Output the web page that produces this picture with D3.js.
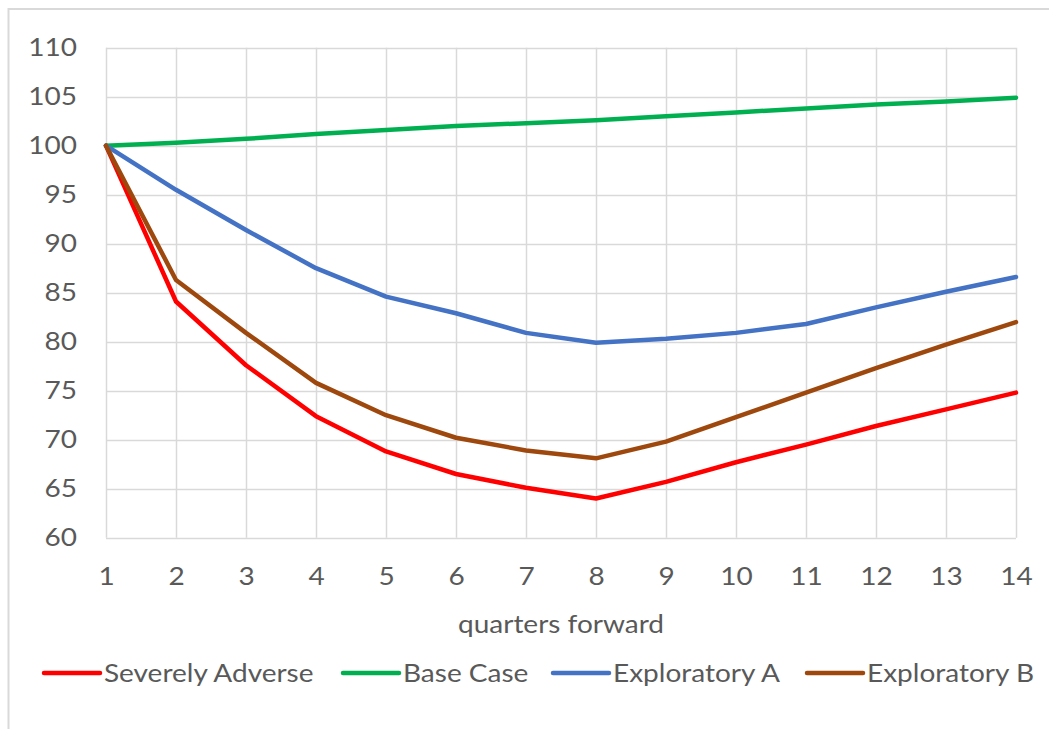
<!DOCTYPE html>
<html>
<head>
<meta charset="utf-8">
<script src="https://cdn.jsdelivr.net/npm/d3@7"></script>
<style>
  html, body { margin: 0; padding: 0; background: #fff; }
  svg { display: block; }
  text { font-family: Lato, "Open Sans", "Liberation Sans", sans-serif; fill: #595959; }
</style>
</head>
<body>
<svg id="chart" width="1049" height="729"></svg>
<script>
// Quarter index along the horizontal axis
const quarters = [1, 2, 3, 4, 5, 6, 7, 8, 9, 10, 11, 12, 13, 14];

// Scenario paths (index, start = 100)
const severelyAdverse = [100, 84.1, 77.6, 72.4, 68.8, 66.5, 65.1, 64.0, 65.7, 67.7, 69.5, 71.4, 73.1, 74.8];
const baseCase        = [100, 100.3, 100.7, 101.2, 101.6, 102.0, 102.3, 102.6, 103.0, 103.4, 103.8, 104.2, 104.5, 104.9];
const exploratoryA    = [100, 95.5, 91.4, 87.5, 84.6, 82.9, 80.9, 79.9, 80.3, 80.9, 81.8, 83.5, 85.1, 86.6];
const exploratoryB    = [100, 86.3, 80.9, 75.8, 72.5, 70.2, 68.9, 68.1, 69.8, 72.3, 74.8, 77.3, 79.7, 82.0];

const seriesNames  = ["Severely Adverse", "Base Case", "Exploratory A", "Exploratory B"];
const seriesColors = ["#FF0000", "#00B050", "#4472C4", "#9E480E"];
const seriesValues = [severelyAdverse, baseCase, exploratoryA, exploratoryB];

const yTicks = [60, 65, 70, 75, 80, 85, 90, 95, 100, 105, 110];
const xTitle = "quarters forward";

const FONT = "Lato, 'Open Sans', sans-serif";
const FONT_SIZE = 25;
const STRETCH = "scale(1.12,1)";   // slightly wider lettering

const svg = d3.select("#chart");

// Chart area frame
svg.append("rect")
  .attr("x", 8.5).attr("y", 9)
  .attr("width", 1100).attr("height", 800)
  .attr("fill", "none").attr("stroke", "#D9D9D9").attr("stroke-width", 2);

const plot = { left: 106, right: 1016, top: 47.7, bottom: 537.7 };

const x = d3.scaleLinear().domain([1, 14]).range([plot.left, plot.right]);
const y = d3.scaleLinear().domain([60, 110]).range([plot.bottom, plot.top]);

// Gridlines
const grid = svg.append("g");
grid.selectAll("line.h").data(yTicks).enter().append("line")
  .attr("x1", plot.left).attr("x2", plot.right)
  .attr("y1", d => Math.round(y(d)) + 0.5).attr("y2", d => Math.round(y(d)) + 0.5)
  .attr("stroke", "#D9D9D9").attr("stroke-width", 1.5);
grid.selectAll("line.v").data(quarters).enter().append("line")
  .attr("y1", plot.top).attr("y2", plot.bottom)
  .attr("x1", d => Math.round(x(d)) + 0.5).attr("x2", d => Math.round(x(d)) + 0.5)
  .attr("stroke", "#D9D9D9").attr("stroke-width", 1.5);

// Y axis labels
const yAxis = svg.append("g").attr("transform", `translate(${plot.left - 29},0)`)
  .call(d3.axisLeft(y).tickValues(yTicks).tickSize(0).tickPadding(0));
yAxis.select(".domain").remove();
yAxis.selectAll("text")
  .attr("font-size", FONT_SIZE).attr("fill", "#595959")
  .attr("transform", STRETCH)
  .style("font-family", FONT);

// X axis labels
const xAxis = svg.append("g").attr("transform", `translate(0,${plot.bottom + 30})`)
  .call(d3.axisBottom(x).tickValues(quarters).tickFormat(d3.format("d")).tickSize(0).tickPadding(0));
xAxis.select(".domain").remove();
xAxis.selectAll("text")
  .attr("font-size", FONT_SIZE).attr("fill", "#595959")
  .attr("transform", STRETCH)
  .style("font-family", FONT);

// Axis title
svg.append("g")
  .attr("transform", `translate(${(plot.left + plot.right) / 2},633)`)
  .append("text")
  .attr("text-anchor", "middle").attr("font-size", FONT_SIZE)
  .attr("transform", STRETCH)
  .text(xTitle);

// Series lines
const line = d3.line()
  .x((d, i) => x(quarters[i]))
  .y(d => y(d));

svg.append("g").selectAll("path").data(seriesValues).enter().append("path")
  .attr("d", line)
  .attr("fill", "none")
  .attr("stroke", (d, i) => seriesColors[i])
  .attr("stroke-width", 4.5)
  .attr("stroke-linejoin", "round")
  .attr("stroke-linecap", "round");

// Legend
const legendX = [44, 343, 553, 807];
const legend = svg.append("g").attr("transform", "translate(0,673)");
const items = legend.selectAll("g").data(seriesNames).enter().append("g")
  .attr("transform", (d, i) => `translate(${legendX[i]},0)`);
items.append("line")
  .attr("x1", 0).attr("x2", 56).attr("y1", 0).attr("y2", 0)
  .attr("stroke", (d, i) => seriesColors[i])
  .attr("stroke-width", 4.5).attr("stroke-linecap", "round");
items.append("g")
  .attr("transform", "translate(60,9)")
  .append("text")
  .attr("font-size", FONT_SIZE)
  .attr("transform", STRETCH)
  .text(d => d);
</script>
</body>
</html>
